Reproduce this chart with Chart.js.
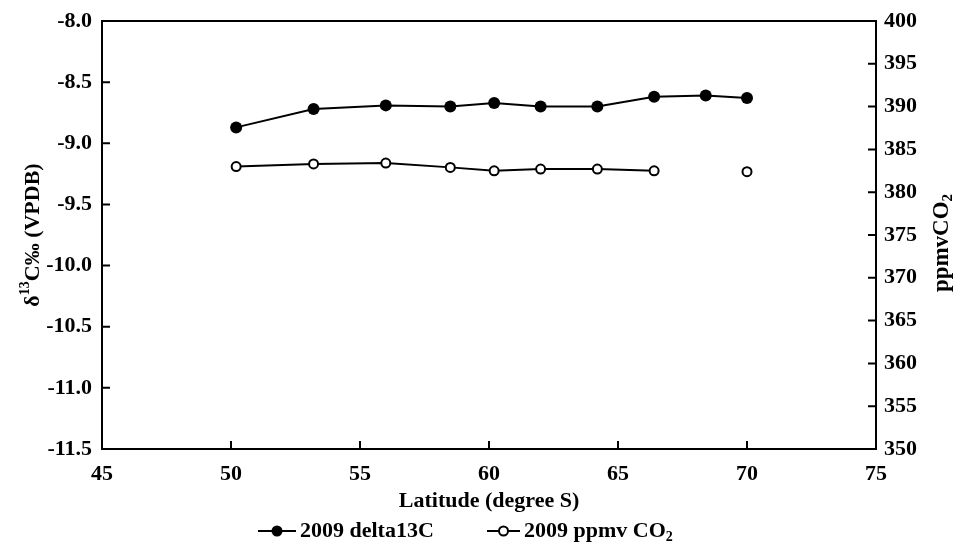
<!DOCTYPE html>
<html lang="en">
<head>
  <meta charset="UTF-8" />
  <title>2009 delta13C and ppmv CO2 by latitude</title>
  <script src="https://cdn.jsdelivr.net/npm/chart.js"></script>
  <style>
    html, body { margin: 0; padding: 0; background: #fff; }
  </style>
</head>
<body>
  <canvas id="chart" width="955" height="556"></canvas>

  <script>
    // values
    const latitude = [50.2, 53.2, 56.0, 58.5, 60.2, 62.0, 64.2, 66.4, 68.4, 70.0];
    const delta13C = [-8.87, -8.72, -8.69, -8.70, -8.67, -8.70, -8.70, -8.62, -8.61, -8.63];
    const ppmvCO2 = [383.0, 383.3, 383.4, 382.9, 382.5, 382.7, 382.7, 382.5, null, 382.4];

    const xRange = [45, 75];
    const leftRange = [-11.5, -8.0];
    const rightRange = [350, 400];

    const FONT = '"Liberation Serif", "Times New Roman", serif';

    // draw a row of text pieces, some raised or lowered (for 13 and 2)
    function richText(ctx, parts, x, y, align) {
      let widths = parts.map(p => {
        ctx.font = "bold " + p.size + "px " + FONT;
        return ctx.measureText(p.t).width;
      });
      let total = widths.reduce((a, b) => a + b, 0);
      let cx = align === "center" ? x - total / 2 : x;
      ctx.textBaseline = "middle";
      ctx.textAlign = "left";
      parts.forEach((p, i) => {
        ctx.font = "bold " + p.size + "px " + FONT;
        ctx.fillText(p.t, cx, y + (p.dy || 0));
        cx += widths[i];
      });
    }

    const framePlugin = {
      id: "frame",
      afterDraw(chart) {
        const ctx = chart.ctx;
        const a = chart.chartArea;
        const sx = chart.scales.x, yl = chart.scales.y, yr = chart.scales.y2;
        ctx.save();
        ctx.strokeStyle = "#000";
        ctx.fillStyle = "#000";
        ctx.lineWidth = 2;
        ctx.strokeRect(a.left, a.top, a.right - a.left, a.bottom - a.top);

        // inward tick marks
        const len = 8;
        ctx.beginPath();
        sx.ticks.forEach(t => {
          if (t.value <= xRange[0] || t.value >= xRange[1]) return;
          const px = sx.getPixelForValue(t.value);
          ctx.moveTo(px, a.bottom);
          ctx.lineTo(px, a.bottom - len);
        });
        yl.ticks.forEach(t => {
          if (t.value <= leftRange[0] || t.value >= leftRange[1]) return;
          const py = yl.getPixelForValue(t.value);
          ctx.moveTo(a.left, py);
          ctx.lineTo(a.left + len, py);
        });
        yr.ticks.forEach(t => {
          if (t.value <= rightRange[0] || t.value >= rightRange[1]) return;
          const py = yr.getPixelForValue(t.value);
          ctx.moveTo(a.right, py);
          ctx.lineTo(a.right - len, py);
        });
        ctx.stroke();

        // axis titles with super/subscripts
        const midY = (a.top + a.bottom) / 2;
        ctx.save();
        ctx.translate(33, midY);
        ctx.rotate(-Math.PI / 2);
        richText(ctx, [
          { t: "\u03b4", size: 22 },
          { t: "13", size: 14, dy: -8 },
          { t: "C\u2030 (VPDB)", size: 22 }
        ], 0, 0, "center");
        ctx.restore();

        ctx.save();
        ctx.translate(942, midY + 8);
        ctx.rotate(-Math.PI / 2);
        richText(ctx, [
          { t: "ppmvCO", size: 23 },
          { t: "2", size: 15, dy: 6 }
        ], 0, 0, "center");
        ctx.restore();

        // legend
        const ly = 531;
        const items = [
          { x: 258, w: 38, r: 5.5, filled: true, parts: [{ t: "2009 delta13C", size: 22 }] },
          { x: 487, w: 33, r: 4.5, filled: false, parts: [{ t: "2009 ppmv CO", size: 22 }, { t: "2", size: 14, dy: 6 }] }
        ];
        items.forEach(it => {
          ctx.lineWidth = 2;
          ctx.beginPath();
          ctx.moveTo(it.x, ly);
          ctx.lineTo(it.x + it.w, ly);
          ctx.stroke();
          ctx.beginPath();
          ctx.arc(it.x + it.w / 2, ly, it.r, 0, Math.PI * 2);
          if (it.filled) {
            ctx.fill();
          } else {
            ctx.fillStyle = "#fff";
            ctx.fill();
            ctx.stroke();
            ctx.fillStyle = "#000";
          }
          richText(ctx, it.parts, it.x + it.w + 4, ly, "left");
        });
        ctx.restore();
      }
    };

    const tickFont = { family: FONT, size: 22, weight: "bold", lineHeight: 1.0 };

    new Chart(document.getElementById("chart").getContext("2d"), {
      type: "line",
      data: {
        datasets: [
          {
            label: "2009 delta13C",
            data: latitude.map((x, i) => ({ x: x, y: delta13C[i] })),
            yAxisID: "y",
            borderColor: "#000",
            backgroundColor: "#000",
            borderWidth: 2,
            pointRadius: 6,
            pointBorderWidth: 0,
            tension: 0
          },
          {
            label: "2009 ppmv CO2",
            data: latitude.map((x, i) => ({ x: x, y: ppmvCO2[i] })),
            yAxisID: "y2",
            borderColor: "#000",
            backgroundColor: "#fff",
            borderWidth: 2,
            pointRadius: 4.5,
            pointBorderWidth: 2,
            spanGaps: false,
            tension: 0
          }
        ]
      },
      options: {
        responsive: false,
        animation: false,
        layout: { padding: { top: 19, bottom: 41, left: 0, right: 0 } },
        plugins: {
          legend: { display: false },
          tooltip: { enabled: false }
        },
        scales: {
          x: {
            type: "linear",
            min: xRange[0],
            max: xRange[1],
            grid: { display: false, drawTicks: false },
            border: { display: false },
            ticks: { stepSize: 5, color: "#000", font: tickFont, padding: 14, maxRotation: 0 },
            title: {
              display: true,
              text: "Latitude (degree S)",
              color: "#000",
              font: { family: FONT, size: 22, weight: "bold" },
              padding: { top: 0, bottom: 0 }
            },
            afterFit(scale) { scale.height = 66; }
          },
          y: {
            position: "left",
            min: leftRange[0],
            max: leftRange[1],
            grid: { display: false, drawTicks: false },
            border: { display: false },
            ticks: { stepSize: 0.5, color: "#000", font: tickFont, padding: 10, callback: v => v.toFixed(1) },
            afterFit(scale) { scale.width = 102; }
          },
          y2: {
            position: "right",
            min: rightRange[0],
            max: rightRange[1],
            grid: { display: false, drawTicks: false },
            border: { display: false },
            ticks: { stepSize: 5, color: "#000", font: tickFont, padding: 8 },
            afterFit(scale) { scale.width = 79; }
          }
        }
      },
      plugins: [framePlugin]
    });
  </script>
</body>
</html>
